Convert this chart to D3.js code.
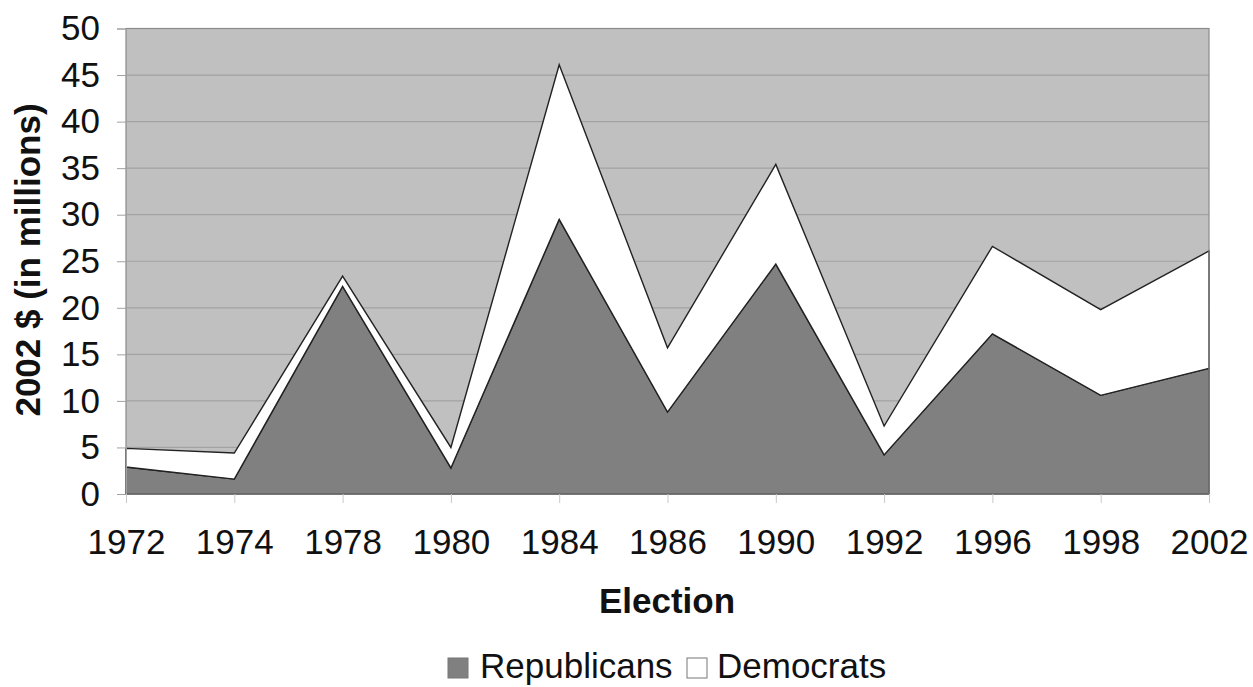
<!DOCTYPE html>
<html>
<head>
<meta charset="utf-8">
<script src="https://cdn.jsdelivr.net/npm/d3@7"></script>
<style>
  html, body { margin: 0; padding: 0; background: #fff; }
  svg { display: block; }
  text { font-family: "Liberation Sans", Arial, sans-serif; fill: #111; }
</style>
</head>
<body>
<svg id="chart" width="1253" height="687"></svg>
<script>
// Campaign spending by party, 2002 dollars (millions)
const elections   = ["1972", "1974", "1978", "1980", "1984", "1986", "1990", "1992", "1996", "1998", "2002"];
const republicans = [2.9, 1.6, 22.3, 2.8, 29.5, 8.8, 24.7, 4.2, 17.2, 10.6, 13.5];
const democrats   = [2.0, 2.8, 1.1, 2.2, 16.6, 6.9, 10.7, 3.1, 9.4, 9.2, 12.6];
const yTicks      = [0, 5, 10, 15, 20, 25, 30, 35, 40, 45, 50];
const seriesNames = ["Republicans", "Democrats"];
const seriesFill  = ["#808080", "#ffffff"];

const FONT = 35;
const svg = d3.select("#chart");
const plot = { left: 126, right: 1209, top: 28.5, bottom: 494 };

const x = d3.scalePoint().domain(elections).range([plot.left, plot.right]);
const y = d3.scaleLinear().domain([0, 50]).range([plot.bottom, plot.top]);

// plot background
svg.append("rect")
  .attr("x", plot.left).attr("y", plot.top)
  .attr("width", plot.right - plot.left).attr("height", plot.bottom - plot.top)
  .attr("fill", "#c0c0c0");

// horizontal gridlines
svg.append("g").selectAll("line").data(yTicks.filter(d => d > 0)).join("line")
  .attr("x1", plot.left).attr("x2", plot.right)
  .attr("y1", d => y(d)).attr("y2", d => y(d))
  .attr("stroke", "#a2a2a2").attr("stroke-width", 1.2);

// stacked areas
const rows = elections.map((e, i) => ({ e, Republicans: republicans[i], Democrats: democrats[i] }));
const stack = d3.stack().keys(seriesNames)(rows);
const area = d3.area()
  .x(d => x(d.data.e))
  .y0(d => y(d[0]))
  .y1(d => y(d[1]));

svg.append("g").selectAll("path").data(stack).join("path")
  .attr("d", area)
  .attr("fill", (d, i) => seriesFill[i])
  .attr("stroke", "#222")
  .attr("stroke-width", 1.4)
  .attr("stroke-linejoin", "miter");

// plot frame
svg.append("rect")
  .attr("x", plot.left).attr("y", plot.top)
  .attr("width", plot.right - plot.left).attr("height", plot.bottom - plot.top)
  .attr("fill", "none").attr("stroke", "#8a8a8a").attr("stroke-width", 1.2);

// y axis
const yAxis = svg.append("g")
  .attr("transform", `translate(${plot.left},0)`)
  .call(d3.axisLeft(y).tickValues(yTicks).tickSize(9).tickPadding(17));
yAxis.select(".domain").attr("stroke", "#a0a0a0");
yAxis.selectAll(".tick line").attr("stroke", "#a0a0a0");
yAxis.selectAll(".tick text")
  .attr("font-size", FONT).attr("fill", "#111")
  .attr("font-family", "'Liberation Sans', Arial, sans-serif");

// x axis
const xAxis = svg.append("g")
  .attr("transform", `translate(0,${plot.bottom})`)
  .call(d3.axisBottom(x).tickSize(9).tickPadding(26));
xAxis.select(".domain").remove();
xAxis.selectAll(".tick line").attr("stroke", "#c8c8c8");
xAxis.selectAll(".tick text")
  .attr("font-size", FONT).attr("fill", "#111")
  .attr("font-family", "'Liberation Sans', Arial, sans-serif");

// axis titles
svg.append("text")
  .attr("x", 667).attr("y", 613)
  .attr("text-anchor", "middle")
  .attr("font-size", FONT).attr("font-weight", "bold")
  .text("Election");

svg.append("text")
  .attr("transform", "translate(40,260) rotate(-90)")
  .attr("text-anchor", "middle")
  .attr("font-size", FONT).attr("font-weight", "bold")
  .text("2002 $ (in millions)");

// legend
const legendItems = [
  { name: seriesNames[0], fill: seriesFill[0], x: 448, dx: 32 },
  { name: seriesNames[1], fill: seriesFill[1], x: 687, dx: 30 }
];
const lg = svg.append("g").selectAll("g").data(legendItems).join("g")
  .attr("transform", d => `translate(${d.x},658)`);
lg.append("rect")
  .attr("width", 20).attr("height", 20)
  .attr("fill", d => d.fill)
  .attr("stroke", "#777").attr("stroke-width", 1);
lg.append("text")
  .attr("x", d => d.dx).attr("y", 20)
  .attr("font-size", FONT)
  .text(d => d.name);
</script>
</body>
</html>
